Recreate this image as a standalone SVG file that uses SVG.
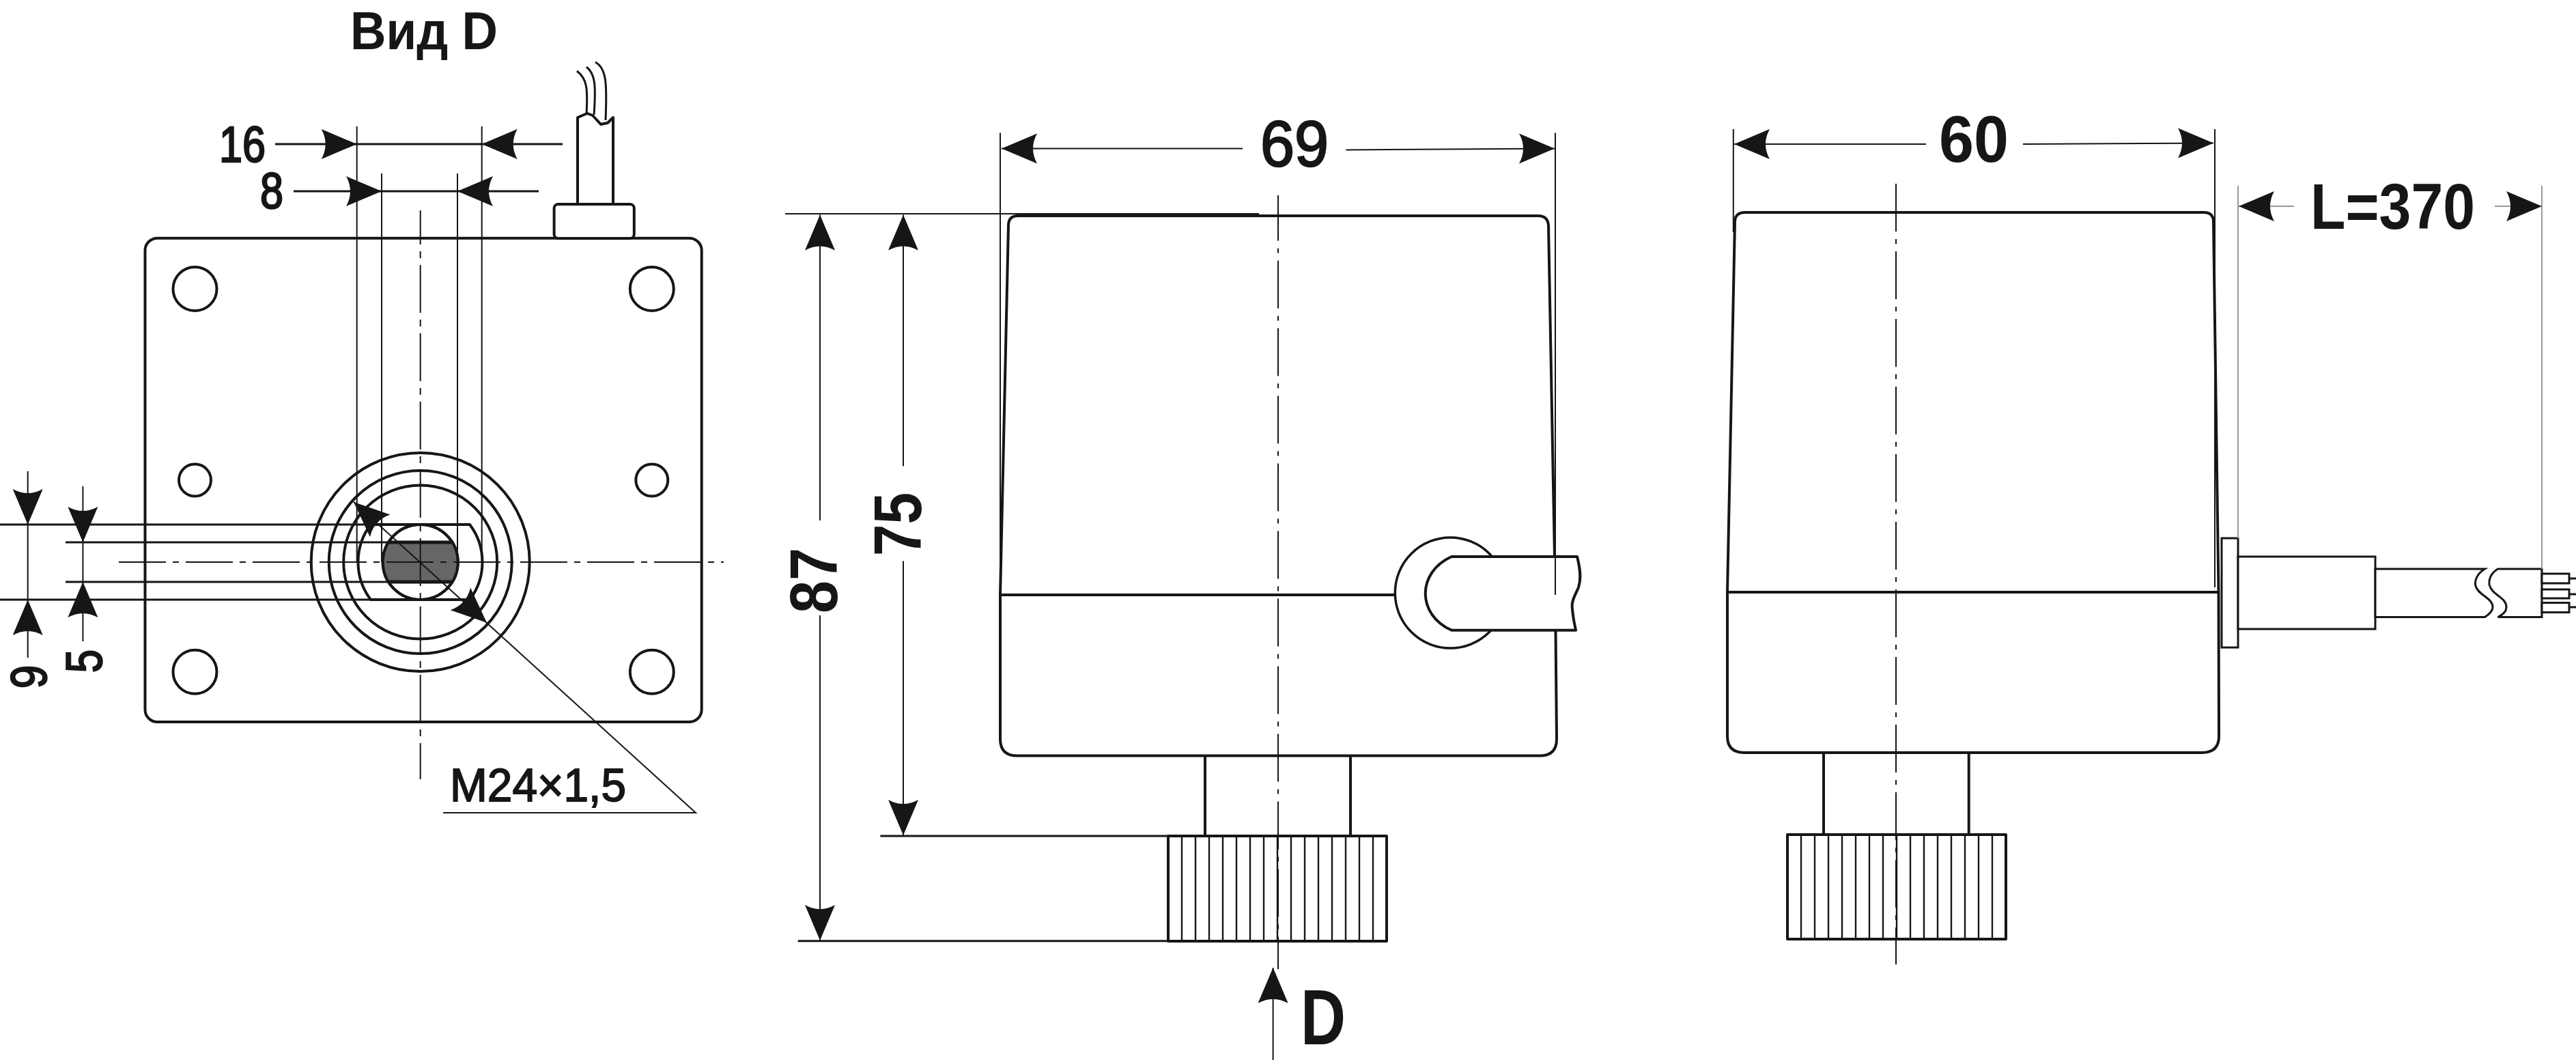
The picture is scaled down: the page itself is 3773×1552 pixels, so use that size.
<svg xmlns="http://www.w3.org/2000/svg" xmlns:xlink="http://www.w3.org/1999/xlink" width="3773" height="1552" viewBox="0 0 3773 1552">
<style>
.o{fill:none;stroke:#161616;stroke-width:4;stroke-linejoin:round}
.w{fill:#fff;stroke:#161616;stroke-width:4;stroke-linejoin:round}
.m{fill:#fff;stroke:#161616;stroke-width:3}
.d{fill:none;stroke:#161616;stroke-width:2}
.g{fill:none;stroke:#9a9a9a;stroke-width:2}
.c{fill:none;stroke:#161616;stroke-width:2;stroke-dasharray:70 10 10 10}
.k{fill:none;stroke:#161616;stroke-width:2.400}
.a{fill:#161616}
text{fill:#161616;font-family:"Liberation Sans",Arial,sans-serif}
.b{font-weight:700}
.s{stroke:#161616;stroke-width:2.500}
</style>
<defs>
<path id="ah" class="a" d="M0,0 L-52,-22 Q-40,0 -52,22 Z"/>
</defs>
<rect width="3773" height="1552" fill="#fff"/>

<g id="view-d">
<rect class="o" x="212.500" y="348.700" width="815.200" height="708.300" rx="18" ry="18"/>
<rect class="w" x="811.600" y="299" width="117.200" height="50" rx="6"/>
<path class="o" d="M846,299 V172 L860,166 L868,169 L880,182 L890,180 L898,172 V299"/>
<path class="d" style="stroke-width:3" d="M859,167 C861,130 860,115 845,104 M870,168 C873,125 872,108 859,98 M887,176 C889,125 889,100 872,91"/>
<circle class="o" cx="285.500" cy="423" r="32"/>
<circle class="o" cx="954.800" cy="423" r="32"/>
<circle class="o" cx="285.500" cy="983.700" r="32"/>
<circle class="o" cx="954.800" cy="983.700" r="32"/>
<circle class="o" cx="285.500" cy="703" r="23.500"/>
<circle class="o" cx="954.800" cy="703" r="23.500"/>
<circle class="o" cx="615.700" cy="823" r="160"/>
<circle class="o" cx="615.700" cy="823" r="134"/>
<circle class="o" cx="615.700" cy="823" r="112.500"/>
<path class="o" d="M543,878 H688 A91,91 0 0 0 688,768 H543 A91,91 0 0 0 543,878 Z"/>
<circle class="w" cx="615.700" cy="823" r="55"/>
<path d="M569,794 H662.400 A55,55 0 0 1 662.400,852 H569 A55,55 0 0 1 569,794 Z" fill="#666" stroke="none"/>
<path class="o" style="stroke-width:5" d="M569,794 H662.400 M569,852 H662.400"/>
<circle class="o" cx="615.700" cy="823" r="55"/>
<path class="c" stroke-dashoffset="20" d="M615.700,308 V1141"/>
<path class="c" style="stroke-dasharray:69 10 9 10" d="M174,823 H1060"/>
</g>

<g id="view-front">
<path class="o" d="M1465,871 L1477,330 Q1477,316 1491,316 H2253 Q2267,316 2268,330 L2278,871 L2280,1082 Q2280,1106.600 2255,1106.600 H1490 Q1465,1106.600 1465,1082 Z"/>
<path class="o" d="M1465,871 H2044"/>
<circle class="w" style="stroke-width:3.500" cx="2124.300" cy="868" r="81"/>
<path class="w" d="M2126,815 H2310 C2315,835 2316,848 2312,860 C2307,872 2301,880 2303,892 C2304,905 2306,913 2308,922.700 H2126 C2075,900 2075,838 2126,815 Z"/>
<path class="o" d="M1765,1107 V1224 M1978,1107 V1224"/>
<rect class="o" x="1711" y="1224" width="320" height="154"/>
<path class="k" d="M1731,1224V1378M1751,1224V1378M1771,1224V1378M1791,1224V1378M1811,1224V1378M1831,1224V1378M1851,1224V1378M1871,1224V1378M1891,1224V1378M1911,1224V1378M1931,1224V1378M1951,1224V1378M1971,1224V1378M1991,1224V1378M2011,1224V1378"/>
<path class="c" stroke-dashoffset="3.500" style="stroke-dasharray:70 11 7 11" d="M1872,286 V1419"/>
</g>

<g id="view-side">
<path class="o" d="M2530,867 L2541,325 Q2541,311 2556,311 H3228 Q3242,311 3242,325 L3249.500,867 L3250,1078 Q3250,1102 3225,1102 H2555 Q2530,1102 2530,1078 Z"/>
<path class="o" d="M2530,867 H3250"/>
<path class="o" d="M2671,1102 V1222 M2883.700,1102 V1222"/>
<rect class="o" x="2618" y="1222" width="320" height="153"/>
<path class="k" d="M2638,1222V1375M2658,1222V1375M2678,1222V1375M2698,1222V1375M2718,1222V1375M2738,1222V1375M2758,1222V1375M2778,1222V1375M2798,1222V1375M2818,1222V1375M2838,1222V1375M2858,1222V1375M2878,1222V1375M2898,1222V1375M2918,1222V1375"/>
<path class="c" style="stroke-dasharray:70 11 7 11" d="M2777,269 V1412"/>
<rect class="m" x="3254" y="788" width="24" height="160"/>
<rect class="m" x="3278" y="815" width="201" height="106"/>
<path class="m" d="M3479,833 H3639.500 C3628,840 3624,850 3626,858 C3630,872 3651,875 3651,889 C3651,895 3645,900 3639.500,903.500 H3479 Z"/>
<path class="m" d="M3658.500,833 H3723 V903.500 H3658.500 C3666,900 3671,895 3671,889 C3671,874 3650,872 3646,856 C3645,850 3647,840 3658.500,833 Z"/>
<rect class="m" x="3723" y="840" width="40" height="14"/>
<rect class="m" x="3723" y="863" width="40" height="13"/>
<rect class="m" x="3723" y="882.600" width="40" height="14"/>
<path class="d" style="stroke-width:3" d="M3763,847 H3773 M3763,870 H3773 M3763,889 H3773"/>
</g>

<g id="connectors">
<path class="d" d="M522.700,185 V823 M559,254 V823 M670,254 V823 M705.700,185 V823"/>
<path class="d" style="stroke-width:3" d="M403,211 H824 M430,280 H789"/>
<use xlink:href="#ah" transform="translate(522.700,211)"/>
<use xlink:href="#ah" transform="translate(705.700,211) rotate(180)"/>
<use xlink:href="#ah" transform="translate(559,280)"/>
<use xlink:href="#ah" transform="translate(670,280) rotate(180)"/>
<path class="d" style="stroke-width:3" d="M0,768 H543 M0,878 H543 M96,794 H575 M96,852 H575"/>
<path class="d" d="M40.700,690 V963 M121.400,712 V939"/>
<use xlink:href="#ah" transform="translate(40.700,768) rotate(90)"/>
<use xlink:href="#ah" transform="translate(40.700,878) rotate(-90)"/>
<use xlink:href="#ah" transform="translate(121.400,794) rotate(90)"/>
<use xlink:href="#ah" transform="translate(121.400,852) rotate(-90)"/>
<path class="d" d="M518,735 L1019,1190 H649"/>
<use xlink:href="#ah" transform="translate(518,735) rotate(222)"/>
<use xlink:href="#ah" transform="translate(713,911.700) rotate(42)"/>
<path class="d" d="M1465,194.600 V871 M2278,194.600 V871"/>
<path class="d" d="M1467,217.600 H1820 M1971.500,219.500 L2277,217.600"/>
<use xlink:href="#ah" transform="translate(1467,217.600) rotate(180)"/>
<use xlink:href="#ah" transform="translate(2277,217.600)"/>
<path class="d" d="M1150,313 H1844"/>
<path class="d" d="M1201,314.500 V762 M1201,901 V1377 M1323,314.500 V682.500 M1323,821.500 V1223"/>
<use xlink:href="#ah" transform="translate(1201,314.500) rotate(-90)"/>
<use xlink:href="#ah" transform="translate(1201,1377) rotate(90)"/>
<use xlink:href="#ah" transform="translate(1323,314.500) rotate(-90)"/>
<use xlink:href="#ah" transform="translate(1323,1223) rotate(90)"/>
<path class="d" style="stroke-width:3" d="M1168.700,1377.700 H1711 M1289.400,1224 H1711"/>
<path class="d" d="M1864.600,1552 V1417"/>
<use xlink:href="#ah" transform="translate(1864.600,1416.700) rotate(-90)"/>
<path class="d" d="M2538.800,189 V340 M3244,189 V860"/>
<path class="d" d="M2540,211 H2821 M2963,211 L3242,209.500"/>
<use xlink:href="#ah" transform="translate(2540,211) rotate(180)"/>
<use xlink:href="#ah" transform="translate(3242,209.500)"/>
<path class="g" d="M3278,272 V788 M3723,272 V833"/>
<path class="g" d="M3279,302 H3360 M3654,302 H3723"/>
<use xlink:href="#ah" transform="translate(3279,302) rotate(180)"/>
<use xlink:href="#ah" transform="translate(3723,302)"/>
</g>

<g id="labels">
<text class="b" x="513" y="72" font-size="78" textLength="216" lengthAdjust="spacingAndGlyphs">Вид D</text>
<text class="s" x="321" y="237" font-size="74" textLength="68" lengthAdjust="spacingAndGlyphs">16</text>
<text class="s" x="381" y="305" font-size="74" textLength="34" lengthAdjust="spacingAndGlyphs">8</text>
<text class="s" transform="translate(68,1008) rotate(-90)" font-size="74" textLength="34" lengthAdjust="spacingAndGlyphs">9</text>
<text class="s" transform="translate(149,985) rotate(-90)" font-size="74" textLength="34" lengthAdjust="spacingAndGlyphs">5</text>
<text class="s" x="659" y="1173" font-size="68" textLength="258" lengthAdjust="spacingAndGlyphs" style="stroke-width:1.800">M24×1,5</text>
<text class="s" x="1846" y="243" font-size="94" textLength="100" lengthAdjust="spacingAndGlyphs">69</text>
<text class="b" x="2840" y="237" font-size="96" textLength="102" lengthAdjust="spacingAndGlyphs">60</text>
<text class="b" x="3384" y="335" font-size="95" textLength="241" lengthAdjust="spacingAndGlyphs">L=370</text>
<text class="b" transform="translate(1226,898) rotate(-90)" font-size="98" textLength="96" lengthAdjust="spacingAndGlyphs">87</text>
<text class="b" transform="translate(1349,814) rotate(-90)" font-size="98" textLength="93" lengthAdjust="spacingAndGlyphs">75</text>
<text class="b" x="1905" y="1529" font-size="115" textLength="66" lengthAdjust="spacingAndGlyphs">D</text>
</g>
</svg>
